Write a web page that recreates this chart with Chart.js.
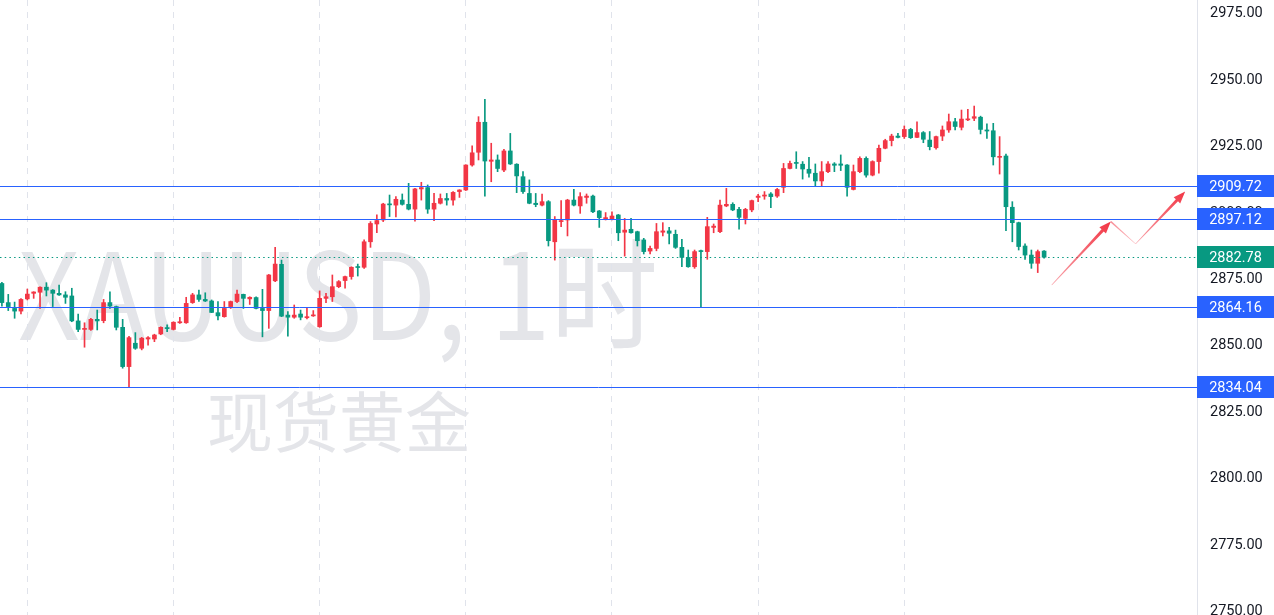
<!DOCTYPE html>
<html>
<head>
<meta charset="utf-8">
<script src="https://cdn.jsdelivr.net/npm/chart.js@4.4.1/dist/chart.umd.min.js"></script>
<style>
  html, body { margin: 0; padding: 0; background: #ffffff; }
  #wrap { position: relative; width: 1274px; height: 615px; }
</style>
</head>
<body>
<div id="wrap"><canvas id="chart" width="1274" height="615"></canvas></div>
<script>
// XAUUSD 1h candles. bar index 0 = first day start on the chart (dashed line)
const firstIndex = -4;

const openPrices = [
  2872.9, 2865.7, 2863.5, 2862.5, 2867.1, 2869.2, 2869.6, 2871.5, 2870.4, 2869.2,
  2868.6, 2868.2, 2858.8, 2855.6, 2855.6, 2859.4, 2858.9, 2865.7, 2864.2, 2856.4,
  2841.6, 2850.4, 2848.5, 2852.0, 2852.0, 2853.9, 2856.3, 2855.6, 2858.1, 2858.1,
  2865.7, 2868.6, 2866.9, 2866.3, 2861.9, 2860.4, 2864.2, 2866.1, 2868.8, 2867.1,
  2867.6, 2863.5, 2862.7, 2873.9, 2880.1, 2861.0, 2860.2, 2861.4, 2860.0, 2860.7,
  2856.6, 2867.3, 2867.9, 2871.7, 2874.0, 2875.5, 2879.2, 2879.0, 2888.6, 2895.3,
  2896.8, 2902.8, 2902.4, 2904.3, 2902.7, 2900.9, 2908.5, 2909.0, 2900.9, 2903.1,
  2904.9, 2904.3, 2907.5, 2908.1, 2917.5, 2922.3, 2933.6, 2918.9, 2919.4, 2915.6,
  2922.8, 2917.8, 2913.1, 2906.8, 2903.1, 2902.4, 2903.7, 2888.6, 2896.2, 2896.8,
  2904.3, 2902.1, 2905.3, 2905.8, 2900.2, 2897.0, 2897.0, 2898.7, 2892.2, 2893.3,
  2892.4, 2889.3, 2885.1, 2886.1, 2892.2, 2892.7, 2891.4, 2886.5, 2882.7, 2879.2,
  2885.2, 2884.9, 2894.0, 2892.4, 2902.1, 2902.7, 2900.8, 2897.4, 2900.6, 2905.3,
  2905.8, 2906.6, 2905.8, 2909.1, 2916.2, 2918.4, 2917.8, 2915.9, 2914.4, 2911.5,
  2915.0, 2917.9, 2917.9, 2917.5, 2908.3, 2915.0, 2920.0, 2913.7, 2918.8, 2923.8,
  2926.7, 2928.4, 2928.2, 2930.9, 2927.9, 2929.7, 2926.9, 2924.0, 2928.4, 2930.7,
  2933.8, 2931.7, 2934.5, 2935.1, 2935.5, 2930.7, 2930.4, 2920.4, 2920.9, 2901.6,
  2895.8, 2887.0, 2883.6, 2880.5, 2885.1
];
const highPrices = [
  2873.3, 2868.8, 2865.9, 2867.2, 2870.8, 2869.8, 2871.6, 2873.2, 2870.6, 2872.3,
  2869.8, 2871.1, 2861.4, 2858.1, 2859.8, 2862.9, 2866.9, 2869.8, 2864.4, 2859.4,
  2853.0, 2854.4, 2852.6, 2852.9, 2853.8, 2856.6, 2857.3, 2858.5, 2860.2, 2867.7,
  2869.2, 2870.4, 2869.4, 2866.7, 2866.1, 2866.1, 2866.3, 2870.4, 2868.9, 2867.9,
  2867.9, 2870.7, 2876.3, 2886.5, 2881.7, 2862.3, 2864.8, 2862.9, 2863.5, 2862.7,
  2870.1, 2869.2, 2876.1, 2874.0, 2875.7, 2879.2, 2880.2, 2889.3, 2896.2, 2898.7,
  2903.1, 2906.2, 2905.6, 2906.6, 2910.6, 2908.7, 2911.0, 2910.0, 2906.8, 2906.6,
  2906.8, 2907.5, 2908.2, 2917.6, 2924.7, 2935.7, 2942.2, 2925.7, 2921.3, 2923.4,
  2929.4, 2918.0, 2915.0, 2911.9, 2906.8, 2906.6, 2904.1, 2898.1, 2904.1, 2904.6,
  2908.3, 2907.1, 2906.6, 2906.2, 2900.4, 2899.6, 2899.9, 2898.9, 2897.4, 2897.4,
  2892.6, 2889.9, 2887.0, 2895.5, 2895.8, 2894.0, 2893.0, 2889.5, 2885.5, 2885.5,
  2885.5, 2897.8, 2895.3, 2904.3, 2908.7, 2903.3, 2901.6, 2901.2, 2904.3, 2906.5,
  2907.5, 2907.1, 2908.7, 2918.1, 2919.0, 2922.5, 2918.8, 2920.4, 2917.9, 2918.8,
  2918.8, 2918.4, 2921.3, 2917.7, 2917.5, 2920.6, 2920.6, 2919.1, 2925.0, 2927.2,
  2929.1, 2929.4, 2932.2, 2931.3, 2933.8, 2930.1, 2930.1, 2928.4, 2932.2, 2936.7,
  2935.1, 2938.2, 2938.5, 2939.7, 2935.9, 2933.0, 2933.2, 2928.2, 2921.6, 2903.7,
  2896.0, 2887.8, 2885.5, 2885.5, 2885.3
];
const lowPrices = [
  2864.4, 2862.7, 2859.8, 2861.4, 2866.7, 2867.3, 2863.5, 2868.2, 2864.2, 2868.4,
  2865.4, 2858.5, 2854.8, 2848.9, 2855.2, 2855.4, 2858.1, 2863.5, 2855.4, 2841.0,
  2834.04, 2848.1, 2847.9, 2849.7, 2851.0, 2853.6, 2854.8, 2855.4, 2857.9, 2857.9,
  2865.4, 2866.1, 2866.1, 2861.9, 2859.2, 2860.2, 2863.5, 2865.7, 2863.5, 2865.0,
  2863.3, 2852.8, 2856.0, 2873.6, 2860.4, 2853.1, 2859.8, 2859.2, 2859.6, 2860.5,
  2856.4, 2865.7, 2866.1, 2871.3, 2871.1, 2874.5, 2875.7, 2878.6, 2886.5, 2892.0,
  2896.2, 2898.1, 2898.0, 2902.4, 2900.6, 2896.4, 2904.3, 2899.3, 2896.5, 2902.8,
  2902.4, 2902.4, 2905.3, 2907.9, 2917.1, 2919.4, 2905.8, 2911.2, 2915.0, 2915.0,
  2917.7, 2907.1, 2906.8, 2902.9, 2901.8, 2902.1, 2887.0, 2881.7, 2894.3, 2890.8,
  2902.1, 2899.3, 2903.1, 2899.6, 2894.0, 2896.8, 2896.8, 2889.0, 2883.2, 2891.8,
  2887.0, 2884.0, 2884.0, 2885.2, 2890.8, 2887.8, 2886.1, 2879.2, 2879.0, 2878.6,
  2864.16, 2882.0, 2892.0, 2892.0, 2901.8, 2900.3, 2893.3, 2895.3, 2899.9, 2903.7,
  2904.6, 2901.4, 2905.3, 2907.1, 2916.0, 2916.2, 2912.2, 2912.9, 2909.6, 2909.6,
  2914.6, 2915.0, 2915.4, 2905.8, 2908.1, 2914.6, 2912.9, 2913.4, 2914.4, 2923.6,
  2924.7, 2927.7, 2927.5, 2927.5, 2927.8, 2925.9, 2923.2, 2923.5, 2926.7, 2929.8,
  2930.7, 2930.7, 2934.2, 2934.2, 2929.2, 2927.5, 2917.5, 2914.1, 2892.8, 2888.6,
  2885.5, 2882.0, 2878.6, 2877.0, 2882.4
];
const closePrices = [
  2865.7, 2864.2, 2862.5, 2866.9, 2868.9, 2869.7, 2871.5, 2870.4, 2869.2, 2868.6,
  2867.7, 2858.8, 2855.6, 2856.0, 2859.4, 2858.8, 2865.7, 2864.4, 2856.4, 2841.6,
  2852.5, 2848.5, 2852.3, 2852.5, 2853.5, 2856.4, 2855.9, 2858.3, 2858.5, 2865.4,
  2868.6, 2866.9, 2866.3, 2862.0, 2860.7, 2863.5, 2866.1, 2868.9, 2867.3, 2867.7,
  2863.5, 2862.7, 2876.1, 2880.2, 2860.6, 2860.2, 2861.0, 2860.2, 2860.4, 2861.0,
  2867.3, 2867.9, 2871.7, 2873.6, 2875.5, 2879.0, 2878.9, 2888.6, 2895.5, 2896.6,
  2902.8, 2902.5, 2904.6, 2902.7, 2900.9, 2908.5, 2909.0, 2900.9, 2903.1, 2904.9,
  2904.3, 2907.2, 2908.1, 2917.5, 2922.1, 2933.6, 2919.0, 2919.4, 2916.2, 2922.8,
  2917.9, 2913.4, 2907.5, 2903.1, 2902.6, 2903.7, 2889.0, 2896.8, 2896.5, 2904.3,
  2902.4, 2905.6, 2905.8, 2899.9, 2897.7, 2897.7, 2898.3, 2892.0, 2893.0, 2892.0,
  2889.0, 2884.9, 2886.1, 2892.4, 2892.7, 2891.8, 2886.5, 2882.7, 2879.2, 2884.9,
  2884.9, 2894.3, 2894.5, 2902.4, 2902.7, 2900.6, 2897.8, 2900.8, 2904.1, 2905.8,
  2906.2, 2905.6, 2908.3, 2916.2, 2918.1, 2918.1, 2916.0, 2914.4, 2911.5, 2915.0,
  2917.9, 2917.4, 2917.4, 2909.1, 2915.0, 2920.0, 2913.7, 2918.8, 2923.8, 2926.7,
  2928.4, 2927.9, 2930.9, 2927.8, 2929.7, 2927.2, 2924.4, 2928.2, 2930.7, 2933.8,
  2932.0, 2934.8, 2934.8, 2935.7, 2930.9, 2930.3, 2920.6, 2920.6, 2901.8, 2895.8,
  2886.8, 2883.6, 2880.5, 2884.9, 2882.78
];

const priceTicks = [2975, 2950, 2925, 2900, 2875, 2850, 2825, 2800, 2775, 2750];
const dayStarts = [0, 23, 46, 69, 92, 115, 138];
const levelPrices = [2909.72, 2897.12, 2864.16, 2834.04];
const lastPrice = 2882.78;
// hand drawn zigzag arrows: [bar index, price]
const arrowPath = [[161.2, 2872.3], [170.5, 2896.2], [174.4, 2887.8], [182.2, 2907.5]];
const symbolText = 'XAUUSD, 1时';
const descText = '现货黄金';

const upColor = '#f23645';
const downColor = '#089981';
const levelColor = '#2962ff';
const axisFont = 'Roboto';

const barIdx = openPrices.map((_, i) => i + firstIndex);
const candleColors = openPrices.map((o, i) => closePrices[i] >= o ? upColor : downColor);

function taper(ctx, a, b, tailW, neckW, headLen, wingW, c0, c1) {
  const dx = b.x - a.x, dy = b.y - a.y, len = Math.hypot(dx, dy);
  const ux = dx / len, uy = dy / len, nx = -uy, ny = ux;
  const hx = b.x - ux * headLen, hy = b.y - uy * headLen;
  ctx.beginPath();
  ctx.moveTo(a.x + nx * tailW / 2, a.y + ny * tailW / 2);
  ctx.lineTo(hx + nx * neckW / 2, hy + ny * neckW / 2);
  if (headLen > 0) {
    ctx.lineTo(hx + nx * wingW / 2, hy + ny * wingW / 2);
    ctx.lineTo(b.x, b.y);
    ctx.lineTo(hx - nx * wingW / 2, hy - ny * wingW / 2);
  }
  ctx.lineTo(hx - nx * neckW / 2, hy - ny * neckW / 2);
  ctx.lineTo(a.x - nx * tailW / 2, a.y - ny * tailW / 2);
  ctx.closePath();
  const g = ctx.createLinearGradient(a.x, a.y, b.x, b.y);
  g.addColorStop(0, c0);
  g.addColorStop(1, c1);
  ctx.fillStyle = g;
  ctx.fill();
}

const overlay = {
  id: 'overlay',
  beforeDraw(chart) {
    const ctx = chart.ctx;
    ctx.save();
    ctx.fillStyle = '#e4e5e9';
    ctx.textAlign = 'center';
    ctx.textBaseline = 'alphabetic';
    ctx.font = '120px "Noto Sans CJK SC"';
    ctx.fillText(symbolText, 338, 340, 640);
    ctx.font = '66px "Noto Sans CJK SC"';
    ctx.fillText(descText, 339, 447);
    ctx.restore();
  },
  afterDatasetsDraw(chart) {
    const {ctx, chartArea} = chart;
    const xs = chart.scales.x, ys = chart.scales.y;
    ctx.save();
    ctx.lineWidth = 1;
    // support / resistance lines
    ctx.strokeStyle = levelColor;
    levelPrices.forEach(p => {
      const y = Math.round(ys.getPixelForValue(p)) + 0.5;
      ctx.beginPath();
      ctx.moveTo(chartArea.left, y);
      ctx.lineTo(chartArea.right, y);
      ctx.stroke();
    });
    // last price line
    const ly = Math.round(ys.getPixelForValue(lastPrice)) + 0.5;
    ctx.strokeStyle = downColor;
    ctx.setLineDash([1.5, 3.2]);
    ctx.beginPath();
    ctx.moveTo(chartArea.left, ly);
    ctx.lineTo(chartArea.right, ly);
    ctx.stroke();
    ctx.setLineDash([]);
    // arrows
    const pts = arrowPath.map(([i, p]) => ({x: xs.getPixelForValue(i), y: ys.getPixelForValue(p)}));
    taper(ctx, pts[0], pts[1], 0.6, 3, 12, 9, 'rgba(242,54,69,0.45)', '#f23645');
    taper(ctx, pts[1], pts[2], 1.6, 0.6, 0, 0, 'rgba(242,54,69,0.55)', 'rgba(242,54,69,0.35)');
    taper(ctx, pts[2], pts[3], 0.6, 3, 12, 9, 'rgba(242,54,69,0.45)', '#f23645');
    ctx.restore();
  },
  afterDraw(chart) {
    const {ctx, chartArea} = chart;
    const ys = chart.scales.y;
    const left = chartArea.right, w = chart.width - chartArea.right;
    ctx.save();
    ctx.font = '14.5px ' + axisFont;
    ctx.textAlign = 'center';
    ctx.textBaseline = 'middle';
    const tags = levelPrices.map(p => [p, levelColor]).concat([[lastPrice, downColor]]);
    tags.forEach(([p, c]) => {
      const y = Math.round(ys.getPixelForValue(p));
      ctx.fillStyle = c;
      ctx.fillRect(left, y - 11, w, 22);
      ctx.fillStyle = '#ffffff';
      ctx.fillText(p.toFixed(2), left + w / 2, y + 1);
    });
    ctx.restore();
  }
};

new Chart(document.getElementById('chart'), {
  type: 'bar',
  data: {
    datasets: [
      {
        label: 'wick',
        data: barIdx.map((x, i) => ({x: x, y: [lowPrices[i], highPrices[i]]})),
        backgroundColor: candleColors,
        barThickness: 1,
        grouped: false,
        order: 2
      },
      {
        label: 'body',
        data: barIdx.map((x, i) => ({x: x, y: [openPrices[i], closePrices[i]]})),
        backgroundColor: candleColors,
        barThickness: 4,
        minBarLength: 1,
        grouped: false,
        order: 1
      }
    ]
  },
  options: {
    responsive: false,
    animation: false,
    layout: { padding: 0 },
    plugins: { legend: { display: false }, tooltip: { enabled: false } },
    scales: {
      x: {
        type: 'linear',
        min: -4.3,
        max: 184.06,
        offset: false,
        afterBuildTicks: s => { s.ticks = dayStarts.map(v => ({value: v})); },
        afterFit: s => { s.height = 0; s.paddingLeft = 0; s.paddingRight = 0; },
        ticks: { display: false },
        grid: { color: '#e0e3eb', lineWidth: 1, drawTicks: false, offset: false },
        border: { display: false, dash: [6, 6] }
      },
      y: {
        position: 'right',
        min: 2748.08,
        max: 2979.63,
        afterBuildTicks: s => { s.ticks = priceTicks.map(v => ({value: v})); },
        afterFit: s => { s.width = 77; s.paddingTop = 0; s.paddingBottom = 0; },
        grid: { display: false, drawTicks: false },
        border: { display: true, color: '#e0e3eb' },
        ticks: {
          color: '#131722',
          font: { family: axisFont, size: 14.5 },
          padding: 13,
          labelOffset: 1.5,
          crossAlign: 'near',
          callback: v => v.toFixed(2)
        }
      }
    }
  },
  plugins: [overlay]
});
</script>
</body>
</html>
